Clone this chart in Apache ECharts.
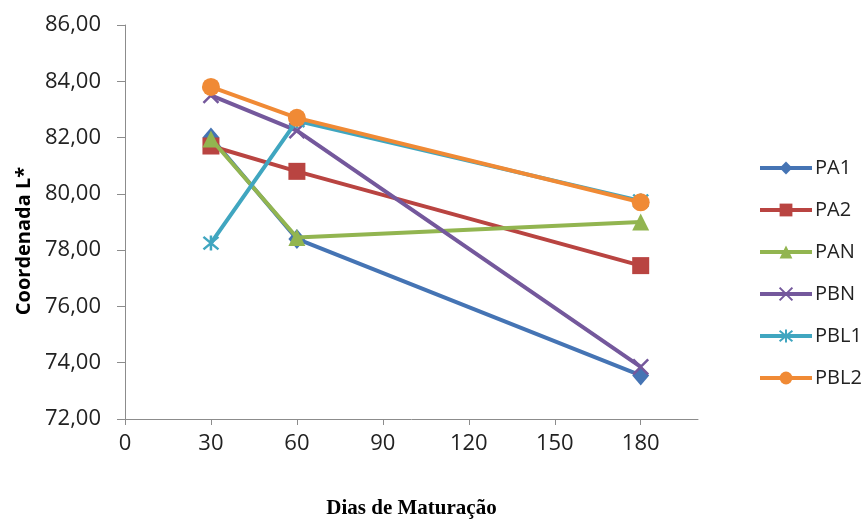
<!DOCTYPE html>
<html>
<head>
<meta charset="utf-8">
<script src="https://cdn.jsdelivr.net/npm/echarts@6/dist/echarts.min.js"></script>
<style>
html,body{margin:0;padding:0;background:#fff;}
#chart{width:862px;height:524px;}
</style>
</head>
<body>
<div id="chart"></div>
<script>
var days = [30, 60, 180];
var seriesNames = ['PA1', 'PA2', 'PAN', 'PBN', 'PBL1', 'PBL2'];
var PA1 = [82.0, 78.4, 73.55];
var PA2 = [81.7, 80.8, 77.45];
var PAN = [81.95, 78.45, 79.0];
var PBN = [83.5, 82.25, 73.85];
var PBL1 = [78.25, 82.6, 79.75];
var PBL2 = [83.8, 82.7, 79.7];
var xTickValues = [0, 30, 60, 90, 120, 150, 180];
var yTickValues = [72, 74, 76, 78, 80, 82, 84, 86];

var values = [PA1, PA2, PAN, PBN, PBL1, PBL2];
var colors = ['#4574B4', '#B94441', '#92B550', '#74589C', '#40A6C0', '#F08A35'];
var symbols = ['diamond', 'rect', 'triangle',
  'path://M0,0L10,10M10,0L0,10',
  'path://M0,0L10,10M10,0L0,10M5,-1L5,11',
  'circle'];
var symSizes = [[17, 20], 17, 17, 15, 15, 18];

var series = seriesNames.map(function (n, i) {
  var c = colors[i];
  var stroke = i === 3 || i === 4;
  return {
    name: n,
    type: 'line',
    data: days.map(function (d, j) { return [d, values[i][j]]; }),
    symbol: symbols[i],
    symbolSize: symSizes[i],
    lineStyle: { color: c, width: 4 },
    itemStyle: stroke ? { color: c, borderColor: c, borderWidth: 2.5 } : { color: c, borderWidth: 0 },
    z: 2 + i
  };
});

var chart = echarts.init(document.getElementById('chart'));
chart.setOption({
  animation: false,
  backgroundColor: '#fff',
  grid: { left: 125, right: 164, top: 25, bottom: 97, containLabel: false },
  xAxis: {
    type: 'value',
    min: 0, max: 200,
    name: 'Dias de Maturação',
    nameLocation: 'middle',
    nameGap: 79,
    nameTextStyle: { fontFamily: 'Liberation Serif', fontWeight: 'bold', fontSize: 21, color: '#000' },
    axisLine: { lineStyle: { color: '#8C8C8C', width: 1 } },
    axisTick: { show: true, length: 6, customValues: xTickValues, lineStyle: { color: '#8C8C8C' } },
    axisLabel: {
      fontFamily: 'Open Sans', fontSize: 22, color: '#222', margin: 14,
      customValues: xTickValues,
      formatter: function (v) { return String(v); }
    },
    splitLine: { show: false }
  },
  yAxis: {
    type: 'value',
    min: 72, max: 86, interval: 2,
    name: 'Coordenada L*',
    nameLocation: 'middle',
    nameRotate: 90,
    nameGap: 88,
    nameTextStyle: { fontFamily: 'Open Sans', fontWeight: 'bold', fontSize: 20, color: '#000', padding: [0, 38, 0, 0] },
    axisLine: { show: true, lineStyle: { color: '#8C8C8C', width: 1 } },
    axisTick: { show: true, length: 8, lineStyle: { color: '#8C8C8C' } },
    axisLabel: {
      fontFamily: 'Open Sans', fontSize: 22, color: '#222', margin: 24,
      formatter: function (v) { return yTickValues.indexOf(v) >= 0 ? v.toFixed(2).replace('.', ',') : ''; }
    },
    splitLine: { show: false }
  },
  legend: {
    orient: 'vertical',
    left: 753,
    top: 153,
    itemWidth: 52,
    itemHeight: 16,
    itemGap: 22,
    lineStyle: { width: 4 },
    textStyle: { fontFamily: 'Open Sans', fontSize: 20, lineHeight: 20, color: '#222', padding: [0, 0, 0, -2] },
    data: seriesNames
  },
  series: series
});
</script>
</body>
</html>
